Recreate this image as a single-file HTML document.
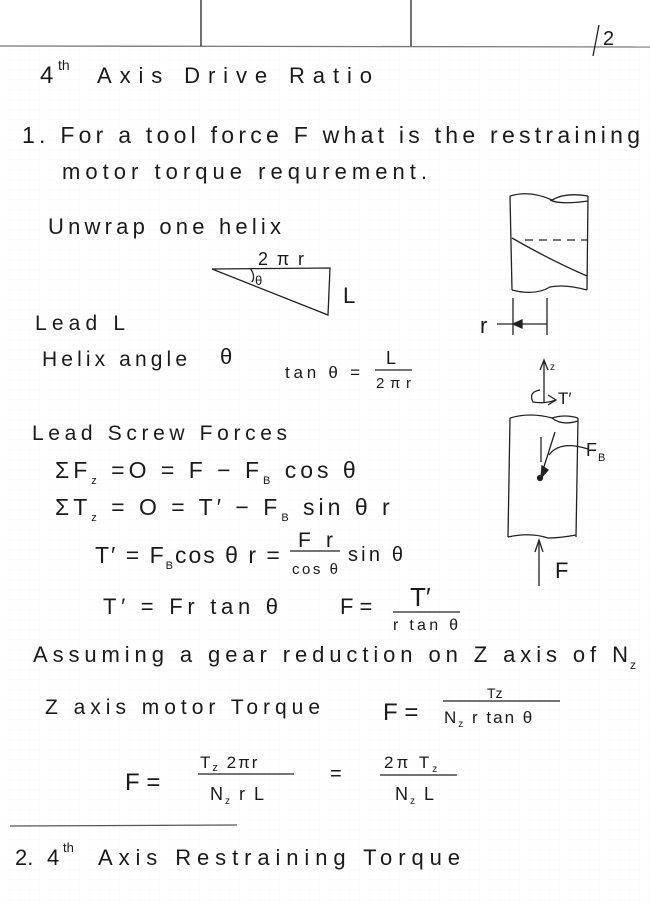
<!DOCTYPE html>
<html><head><meta charset="utf-8"><style>
html,body{margin:0;padding:0;background:#fff}
svg{display:block}
text{font-family:"Liberation Sans",sans-serif;fill:#1a1a1a;font-weight:normal}
</style></head><body>
<svg width="650" height="904" viewBox="0 0 650 904" xmlns="http://www.w3.org/2000/svg">
<defs>
<pattern id="g" width="10" height="10" patternUnits="userSpaceOnUse">
<path d="M10 0V10M0 10H10" stroke="#ececec" stroke-width="0.6" fill="none"/>
</pattern>
</defs>
<rect width="650" height="904" fill="#fff"/>
<rect y="47" width="650" height="857" fill="url(#g)" opacity="0.6"/>
<g stroke="#222" stroke-width="1.3" fill="none">
<line x1="0" y1="46" x2="650" y2="47" stroke="#777"/>
<line x1="201" y1="0" x2="201" y2="46"/>
<line x1="411" y1="0" x2="411" y2="46"/>
<line x1="599" y1="25" x2="593" y2="56"/>
<path d="M212 269 L330 268 L328 315 Z"/>
<path d="M250 268 Q256 276 252 282"/>
<path d="M510 196 L512 290"/>
<path d="M588 196 L587 290"/>
<path d="M510 196 Q530 190 552 200 Q566 192 588 196"/>
<path d="M550 200 Q560 205 588 201"/>
<path d="M512 290 Q535 296 550 287 Q565 284 587 290"/>
<path d="M512 238 Q550 260 587 276"/>
<path d="M525 240 L587 240" stroke-dasharray="8,6"/>
<path d="M513 298 L513 335 M547 298 L547 335 M497 324 L547 324"/>
<path d="M513 324 L522 320 L522 328 Z" fill="#222"/>
<path d="M544 402 L544 362 M540 370 L544 360 L548 370"/>
<path d="M540 390 Q528 392 533 402 Q545 404 556 400 M548 395 L556 400 L548 405"/>
<path d="M510 418 L508 537 M578 418 L576 537"/>
<path d="M510 418 Q530 412 552 418 Q565 414 578 418"/>
<path d="M552 418 Q562 426 578 421"/>
<path d="M508 537 Q530 532 548 538 Q560 538 576 535"/>
<path d="M541 437 L541 462 M555 432 L541 476"/>
<path d="M541 478 L542 466 L548 470 Z" fill="#222"/>
<circle cx="540" cy="478" r="2.5" fill="#222"/>
<path d="M549 455 Q560 440 588 449"/>
<path d="M539 586 L539 540 M535 552 L539 540 L543 552"/>
<line x1="375" y1="370" x2="412" y2="370"/>
<line x1="290" y1="551" x2="340" y2="551"/>
<line x1="393" y1="612" x2="460" y2="612"/>
<line x1="443" y1="701" x2="560" y2="701"/>
<line x1="198" y1="774" x2="294" y2="774"/>
<line x1="380" y1="775" x2="457" y2="775"/>
<line x1="10" y1="826" x2="237" y2="825" stroke="#555"/>
</g>
<text x="603" y="45" font-size="20">2</text>
<text x="40" y="83" font-size="24">4</text><text x="58" y="70" font-size="14">th</text>
<text x="97" y="83" font-size="22" textLength="275">Axis  Drive  Ratio</text>
<text x="22" y="143" font-size="23" textLength="618">1. For a tool force F  what is the restraining</text>
<text x="62" y="179" font-size="22" textLength="365">motor  torque  requrement.</text>
<text x="48" y="234" font-size="22" textLength="233">Unwrap  one  helix</text>
<text x="258" y="265" font-size="18" textLength="46">2πr</text>
<text x="255" y="285" font-size="13">θ</text>
<text x="343" y="303" font-size="22">L</text>
<text x="35" y="330" font-size="21" textLength="90">Lead  L</text>
<text x="480" y="333" font-size="22">r</text>
<text x="42" y="366" font-size="21" textLength="145">Helix  angle</text>
<text x="220" y="364" font-size="22">θ</text>
<text x="285" y="378" font-size="17" textLength="75">tan θ  =</text>
<text x="386" y="364" font-size="18">L</text>
<text x="376" y="388" font-size="15" textLength="35">2πr</text>
<text x="550" y="370" font-size="10">z</text>
<text x="558" y="404" font-size="17">T′</text>
<text x="32" y="440" font-size="21" textLength="255">Lead  Screw  Forces</text>
<text x="586" y="456" font-size="18">F</text><text x="598" y="461" font-size="11">B</text>
<text x="55" y="478" font-size="23" letter-spacing="4">ΣF<tspan font-size="11" dy="6">z</tspan><tspan dy="-6"> =O = F − F</tspan><tspan font-size="11" dy="6">B</tspan><tspan dy="-6"> cos θ</tspan></text>
<text x="55" y="515" font-size="23" letter-spacing="4">ΣT<tspan font-size="11" dy="6">z</tspan><tspan dy="-6"> = O = T′ − F</tspan><tspan font-size="11" dy="6">B</tspan><tspan dy="-6"> sin θ r</tspan></text>
<text x="95" y="563" font-size="23" letter-spacing="2">T′ = F<tspan font-size="11" dy="6">B</tspan><tspan dy="-6">cos θ r =</tspan></text>
<text x="298" y="547" font-size="21" textLength="35">Fr</text>
<text x="292" y="574" font-size="15" textLength="46">cos θ</text>
<text x="348" y="561" font-size="20" textLength="55">sin θ</text>
<text x="555" y="578" font-size="22">F</text>
<text x="103" y="614" font-size="22" textLength="175">T′ =  Fr tan θ</text>
<text x="340" y="614" font-size="22">F =</text>
<text x="410" y="606" font-size="26">T′</text>
<text x="393" y="630" font-size="16" textLength="65">r tan θ</text>
<text x="33" y="662" font-size="22" textLength="595">Assuming  a  gear  reduction  on  Z  axis  of  N</text>
<text x="630" y="669" font-size="12">z</text>
<text x="45" y="714" font-size="21" textLength="275">Z  axis  motor  Torque</text>
<text x="383" y="720" font-size="24">F =</text>
<text x="487" y="698" font-size="14">Tz</text>
<text x="444" y="723" font-size="17" letter-spacing="2">N<tspan font-size="10" dy="4">z</tspan><tspan dy="-4"> r tan θ</tspan></text>
<text x="125" y="790" font-size="24">F =</text>
<text x="200" y="768" font-size="17" letter-spacing="2">T<tspan font-size="11" dy="3">z</tspan><tspan dy="-3"> 2πr</tspan></text>
<text x="210" y="800" font-size="18" letter-spacing="2">N<tspan font-size="10" dy="4">z</tspan><tspan dy="-4"> r L</tspan></text>
<text x="330" y="780" font-size="20">=</text>
<text x="384" y="768" font-size="17" letter-spacing="3">2π T<tspan font-size="10" dy="4">z</tspan></text>
<text x="395" y="800" font-size="18" letter-spacing="2">N<tspan font-size="10" dy="4">z</tspan><tspan dy="-4"> L</tspan></text>
<text x="15" y="865" font-size="22">2.</text>
<text x="47" y="865" font-size="22">4</text><text x="63" y="852" font-size="13">th</text>
<text x="98" y="865" font-size="22" textLength="362">Axis  Restraining  Torque</text>
</svg>
</body></html>
